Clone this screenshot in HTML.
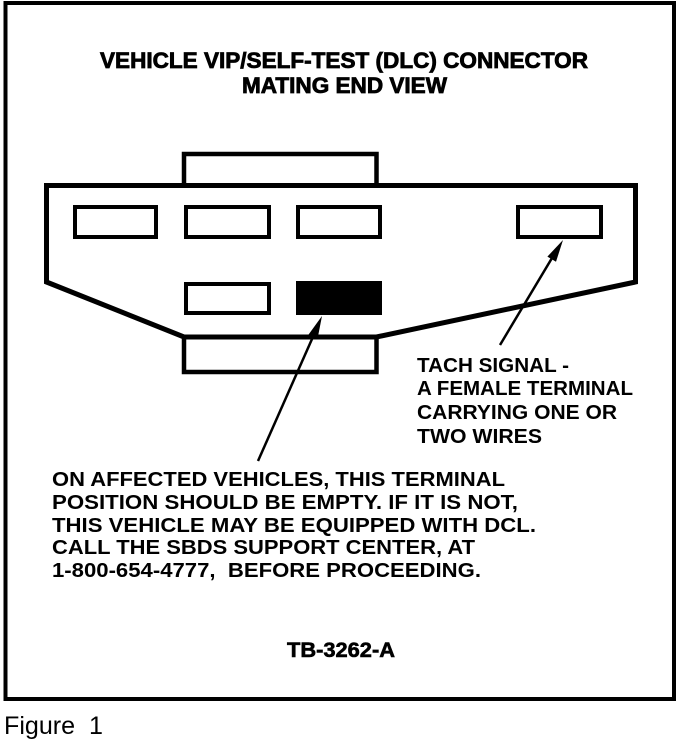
<!DOCTYPE html>
<html>
<head>
<meta charset="utf-8">
<style>
  html, body { margin: 0; padding: 0; background: #ffffff; }
  svg { display: block; }
  text { font-family: "Liberation Sans", Arial, sans-serif; fill: #000; }
</style>
</head>
<body>
<svg width="688" height="742" viewBox="0 0 688 742" xmlns="http://www.w3.org/2000/svg">
  <rect x="0" y="0" width="688" height="742" fill="#fff"/>

  <!-- outer frame -->
  <rect x="5.5" y="3" width="668.5" height="696" fill="none" stroke="#000" stroke-width="4"/>

  <!-- heading -->
  <text x="100" y="68" font-size="22" font-weight="bold" stroke="#000" stroke-width="0.8" textLength="488" lengthAdjust="spacingAndGlyphs">VEHICLE VIP/SELF-TEST (DLC) CONNECTOR</text>
  <text x="242" y="93" font-size="22" font-weight="bold" stroke="#000" stroke-width="0.8" textLength="205" lengthAdjust="spacingAndGlyphs">MATING END VIEW</text>

  <!-- top tab -->
  <polyline points="184,185.5 184,154 376.5,154 376.5,185.5" fill="none" stroke="#000" stroke-width="4.5"/>

  <!-- connector body -->
  <polygon points="46.5,185.5 635.5,185.5 635.5,282 376.5,337 184,337 46.5,282" fill="none" stroke="#000" stroke-width="5" stroke-linejoin="miter"/>

  <!-- bottom tab -->
  <rect x="184" y="337" width="192.5" height="35" fill="none" stroke="#000" stroke-width="4.5"/>

  <!-- terminals upper row -->
  <rect x="75" y="207" width="81" height="30" fill="none" stroke="#000" stroke-width="4"/>
  <rect x="186" y="207" width="83" height="30" fill="none" stroke="#000" stroke-width="4"/>
  <rect x="298" y="207" width="82" height="30" fill="none" stroke="#000" stroke-width="4"/>
  <rect x="518" y="207" width="83" height="30" fill="none" stroke="#000" stroke-width="4"/>

  <!-- terminals lower row -->
  <rect x="186" y="284" width="83" height="29" fill="none" stroke="#000" stroke-width="4"/>
  <rect x="296" y="281" width="86" height="34" fill="#000"/>

  <!-- left arrow -->
  <line x1="258" y1="461" x2="316" y2="330" stroke="#000" stroke-width="2.5"/>
  <polygon points="322,316 317.6,338.5 308.6,334.5" fill="#000"/>

  <!-- right (tach) arrow -->
  <line x1="500" y1="345" x2="555" y2="253" stroke="#000" stroke-width="2.5"/>
  <polygon points="563,240 556,261.8 547.4,256.6" fill="#000"/>

  <!-- tach label -->
  <text x="417" y="372" font-size="20.5" font-weight="bold" textLength="152" lengthAdjust="spacingAndGlyphs">TACH SIGNAL -</text>
  <text x="417" y="395" font-size="20.5" font-weight="bold" textLength="216" lengthAdjust="spacingAndGlyphs">A FEMALE TERMINAL</text>
  <text x="417" y="419" font-size="20.5" font-weight="bold" textLength="200" lengthAdjust="spacingAndGlyphs">CARRYING ONE OR</text>
  <text x="417" y="443" font-size="20.5" font-weight="bold" textLength="125" lengthAdjust="spacingAndGlyphs">TWO WIRES</text>

  <!-- main note -->
  <text x="52" y="486" font-size="20" font-weight="bold" textLength="453" lengthAdjust="spacingAndGlyphs">ON AFFECTED VEHICLES, THIS TERMINAL</text>
  <text x="52" y="509" font-size="20" font-weight="bold" textLength="466" lengthAdjust="spacingAndGlyphs">POSITION SHOULD BE EMPTY. IF IT IS NOT,</text>
  <text x="52" y="532" font-size="20" font-weight="bold" textLength="484" lengthAdjust="spacingAndGlyphs">THIS VEHICLE MAY BE EQUIPPED WITH DCL.</text>
  <text x="52" y="554" font-size="20" font-weight="bold" textLength="423" lengthAdjust="spacingAndGlyphs">CALL THE SBDS SUPPORT CENTER, AT</text>
  <text x="52" y="577" font-size="20" font-weight="bold" textLength="429" lengthAdjust="spacingAndGlyphs" style="white-space:pre">1-800-654-4777,  BEFORE PROCEEDING.</text>

  <!-- figure id -->
  <text x="287" y="657" font-size="21" font-weight="bold" stroke="#000" stroke-width="0.6" textLength="108" lengthAdjust="spacingAndGlyphs">TB-3262-A</text>

  <!-- caption -->
  <text x="4" y="734" font-size="25" textLength="99" lengthAdjust="spacingAndGlyphs" style="white-space:pre">Figure  1</text>
</svg>
</body>
</html>
